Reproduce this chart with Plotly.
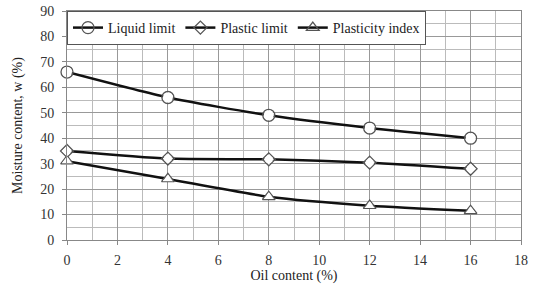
import plotly.graph_objects as go

oil_content = [0, 4, 8, 12, 16]
liquid_limit = [66, 56, 49, 44, 40]
plastic_limit = [35, 32, 31.7, 30.4, 28]
plasticity_index = [31, 24, 17, 13.5, 11.5]

series = [
    ("Liquid limit", liquid_limit, "circle-open", 12),
    ("Plastic limit", plastic_limit, "diamond-open", 10),
    ("Plasticity index", plasticity_index, "triangle-up-open", 11),
]

fig = go.Figure()
for name, vals, sym, sz in series:
    fig.add_trace(go.Scatter(
        x=oil_content, y=vals, name=name, mode="lines+markers",
        line=dict(color="#111111", width=2.5, shape="spline", smoothing=0.6),
        marker=dict(symbol=sym, size=sz, color="#555555",
                    line=dict(width=1.3, color="#555555")),
        cliponaxis=False,
    ))
# white fill behind markers
for name, vals, sym, sz in series:
    fig.add_trace(go.Scatter(
        x=oil_content, y=vals, mode="markers", showlegend=False, hoverinfo="skip",
        marker=dict(symbol=sym.replace("-open", ""), size=sz - 2, color="white",
                    line=dict(width=0)),
        cliponaxis=False,
    ))

serif = "Liberation Serif"
fig.update_layout(
    width=535, height=291,
    margin=dict(l=67, r=14, t=11, b=51),
    paper_bgcolor="white", plot_bgcolor="white",
    font=dict(family=serif, size=13, color="#222222"),
    showlegend=True,
    legend=dict(orientation="h", x=0, y=1, xanchor="left", yanchor="top",
                bgcolor="white", bordercolor="#555555", borderwidth=1,
                font=dict(family=serif, size=14, color="#222222"),
                itemwidth=30, tracegroupgap=0),
    xaxis=dict(range=[0, 18], dtick=2, tick0=0, automargin=False,
               ticklabeloverflow="allow", ticklabelstandoff=3,
               showgrid=True, gridcolor="#999999", gridwidth=1,
               minor=dict(dtick=1, showgrid=True, gridcolor="#bbbbbb"),
               showline=True, linecolor="#888888", mirror=True,
               ticks="outside", ticklen=4, tickcolor="#888888",
               zeroline=False,
               title=dict(text="Oil content (%)", font=dict(family=serif, size=14), standoff=0),
               tickfont=dict(family=serif, size=14, color="#333333")),
    yaxis=dict(range=[0, 90], dtick=10, tick0=0, automargin=False,
               ticklabeloverflow="allow", ticklabelstandoff=5,
               showgrid=True, gridcolor="#999999", gridwidth=1,
               minor=dict(dtick=5, showgrid=True, gridcolor="#bbbbbb"),
               showline=True, linecolor="#888888", mirror=True,
               ticks="outside", ticklen=4, tickcolor="#888888",
               zeroline=False,
               title=dict(text="Moisture content, w (%)", font=dict(family=serif, size=14), standoff=14),
               tickfont=dict(family=serif, size=14, color="#333333")),
)

fig.write_html("out.html", config={"displayModeBar": False},
               post_script="document.body.style.margin='0';document.body.style.overflow='hidden';")
